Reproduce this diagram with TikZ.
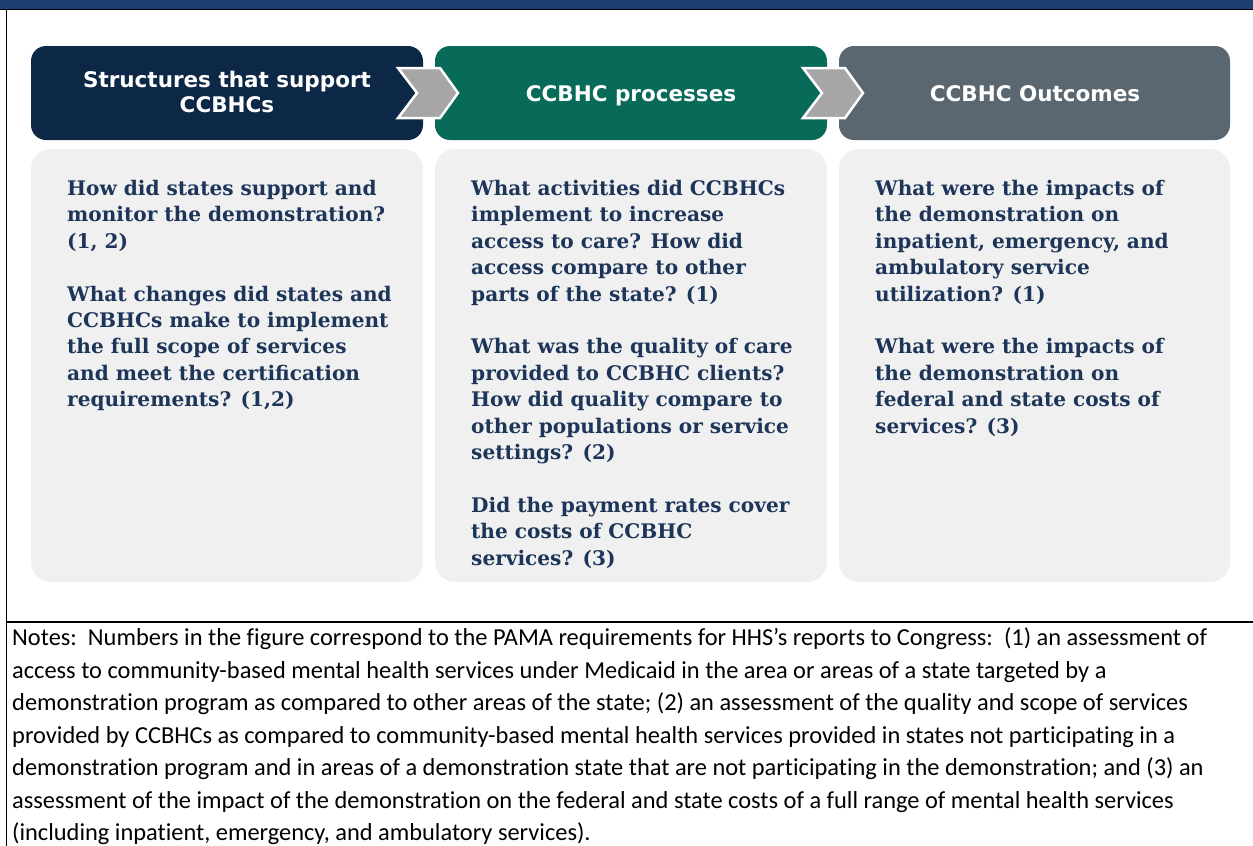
\documentclass[tikz,border=0pt]{standalone}
\usepackage{fontspec}
\setmainfont{DejaVu Serif}
\newfontfamily\hdrfont{DejaVu Sans}
\newfontfamily\qfont{DejaVu Serif}
\newfontfamily\notefont[Ligatures=NoCommon]{Carlito}
\definecolor{topbar}{HTML}{1B3F70}
\definecolor{navy}{HTML}{0D2847}
\definecolor{teal}{HTML}{086B5A}
\definecolor{slate}{HTML}{5B6770}
\definecolor{panel}{HTML}{F0F0F0}
\definecolor{qtext}{HTML}{1C3559}
\definecolor{chev}{HTML}{A6A6A6}
\tikzset{
  hdr/.style={rounded corners=15pt, inner sep=0pt},
  hdrtext/.style={text=white, font=\hdrfont\bfseries\fontsize{21.5}{25}\selectfont, align=center, inner sep=0pt},
  pnl/.style={fill=panel, rounded corners=20pt},
  qtxt/.style={text=qtext, font=\qfont\bfseries\fontsize{20.1}{26.4}\selectfont, align=left, anchor=north west, inner sep=0pt},
  chevron/.style={fill=chev, draw=white, line width=2.5pt, line join=miter},
  frame/.style={draw=black, line width=1.5pt}
}
\begin{document}
\begin{tikzpicture}[x=1pt,y=-1pt]
\useasboundingbox (0,0) rectangle (1253,846);
\fill[white] (0,0) rectangle (1253,846);
% frame
\fill[topbar] (0,0) rectangle (1253,9);
\draw[frame] (0,9.5) -- (1253,9.5);
\draw[frame] (6.5,9.5) -- (6.5,846);
\draw[frame] (6.5,622) -- (1253,622);
% headers
\fill[navy, hdr] (31,46) rectangle (423,140);
\fill[teal, hdr] (435,46) rectangle (827,140);
\fill[slate, hdr] (839,46) rectangle (1230,140);
\node[hdrtext, anchor=north] (h1) at (227,71) {Structures that support\\CCBHCs};
\node[hdrtext, anchor=base] (h2) at (631,101) {CCBHC processes};
\node[hdrtext, anchor=base] (h3) at (1035,101) {CCBHC Outcomes};
% chevrons
\draw[chevron] (398,68) -- (440,68) -- (458,93) -- (440,118) -- (398,118) -- (417,93) -- cycle;
\draw[chevron] (803,68) -- (845,68) -- (863,93) -- (845,118) -- (803,118) -- (822,93) -- cycle;
% panels
\fill[pnl] (31,149) rectangle (423,582);
\fill[pnl] (435,149) rectangle (827,582);
\fill[pnl] (839,149) rectangle (1230,582);
% questions
\node[qtxt] (q1) at (67,180) {How did states support and\\monitor the demonstration?\\(1, 2)\\[26.4pt]What changes did states and\\CCBHCs make to implement\\the full scope of services\\and meet the certification\\requirements? (1,2)};
\node[qtxt] (q2) at (471,180) {What activities did CCBHCs\\implement to increase\\access to care? How did\\access compare to other\\parts of the state? (1)\\[26.4pt]What was the quality of care\\provided to CCBHC clients?\\How did quality compare to\\other populations or service\\settings? (2)\\[26.4pt]Did the payment rates cover\\the costs of CCBHC\\services? (3)};
\node[qtxt] (q3) at (875,180) {What were the impacts of\\the demonstration on\\inpatient, emergency, and\\ambulatory service\\utilization? (1)\\[26.4pt]What were the impacts of\\the demonstration on\\federal and state costs of\\services? (3)};
% notes
\node[anchor=north west, inner sep=0pt, align=left, font=\notefont\fontsize{24.4}{32.5}\selectfont] (notes) at (12,627.5) {Notes:\ \ Numbers in the figure correspond to the PAMA requirements for HHS’s reports to Congress:\ \ (1) an assessment of\\access to community-based mental health services under Medicaid in the area or areas of a state targeted by a\\demonstration program as compared to other areas of the state; (2) an assessment of the quality and scope of services\\provided by CCBHCs as compared to community-based mental health services provided in states not participating in a\\demonstration program and in areas of a demonstration state that are not participating in the demonstration; and (3) an\\assessment of the impact of the demonstration on the federal and state costs of a full range of mental health services\\(including inpatient, emergency, and ambulatory services).};
\end{tikzpicture}
\end{document}
